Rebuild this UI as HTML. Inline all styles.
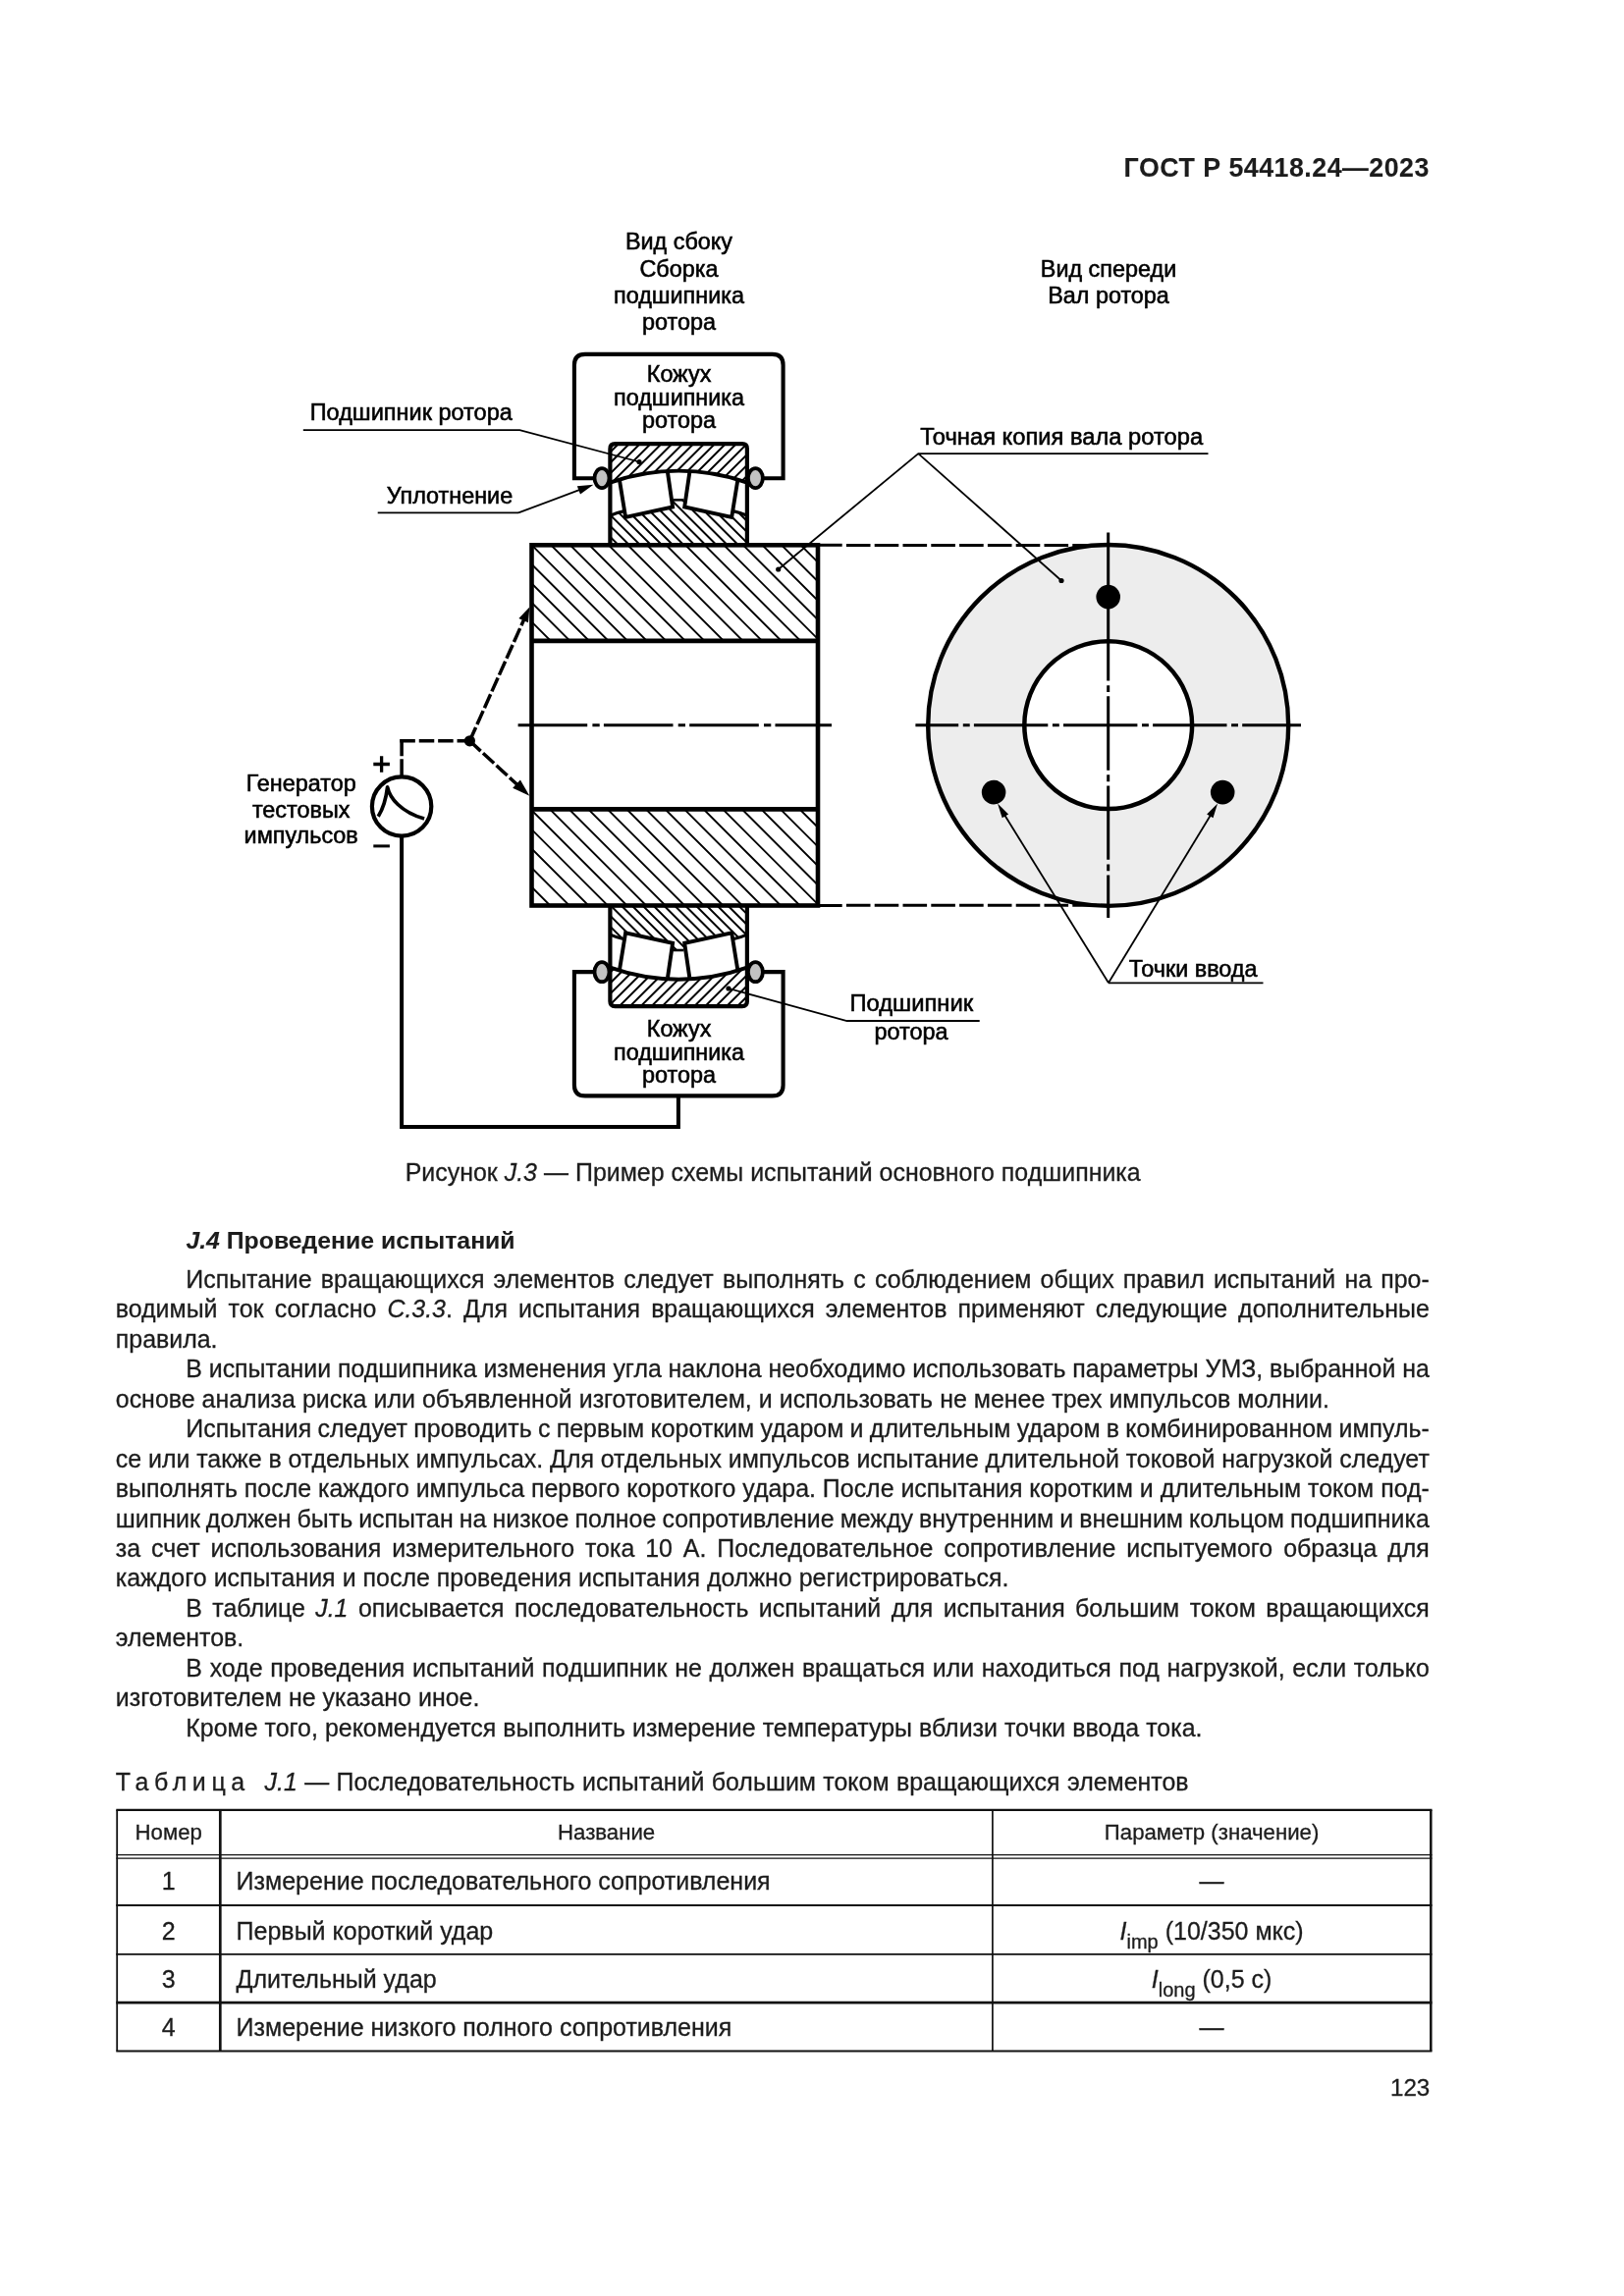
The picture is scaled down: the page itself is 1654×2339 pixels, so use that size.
<!DOCTYPE html>
<html lang="ru"><head><meta charset="utf-8"><title>ГОСТ Р 54418.24—2023</title>
<style>
html,body{margin:0;padding:0;background:#fff}
body{width:1654px;height:2339px;position:relative;overflow:hidden;font-family:"Liberation Sans",Arial,sans-serif;color:#1c1c1c}
.l{position:absolute;white-space:nowrap;margin:0;-webkit-text-stroke:0.3px #1c1c1c}
.l i{font-style:italic}
.r{position:absolute;background:#161616}
sub{font-size:20px;vertical-align:baseline;position:relative;top:9px;line-height:0}
#pg{position:absolute;left:0;top:0;width:1654px;height:2339px;background:#fff;filter:grayscale(1)}
</style></head><body><div id="pg">
<svg width="1654" height="1170" viewBox="0 0 1654 1170" style="position:absolute;left:0;top:0" font-family="'Liberation Sans',Arial,sans-serif" fill="#000"><style>text{stroke:#000;stroke-width:0.55px}</style><defs>
<clipPath id="cTO"><path d="M621.4 452.2 L760.9 452.2 L760.90 491.60 A209.0 209.0 0 0 0 621.40 491.60 Z"/></clipPath>
<clipPath id="cTI"><path d="M621.40 525.20 Q628.60 522.00 635.80 520.60 L637.10 527.00 L685.10 516.50 L685.90 509.30 L696.40 509.30 L697.20 516.50 L745.20 527.00 L746.50 520.60 Q753.70 522.00 760.90 525.20 L760.9 555.3 L621.4 555.3 Z"/></clipPath>
<clipPath id="cBO"><path d="M 621.4 1025.10 L 760.9 1025.10 L 760.90 985.70 A 209.0 209.0 0 0 1 621.40 985.70 Z"/></clipPath>
<clipPath id="cBI"><path d="M 621.40 952.10 Q 628.60 955.30 635.80 956.70 L 637.10 950.30 L 685.10 960.80 L 685.90 968.00 L 696.40 968.00 L 697.20 960.80 L 745.20 950.30 L 746.50 956.70 Q 753.70 955.30 760.90 952.10 L 760.9 922.00 L 621.4 922.00 Z"/></clipPath>
<clipPath id="cST"><rect x="541.5" y="555.3" width="291.5" height="97.60000000000002"/></clipPath>
<clipPath id="cSB"><rect x="541.5" y="824.4" width="291.5" height="98.10000000000002"/></clipPath>
</defs>
<ellipse cx="1128.7" cy="738.9499999999999" rx="183.5" ry="183.9" fill="#ededed" stroke="#000" stroke-width="4.4"/>
<circle cx="1128.7" cy="738.65" r="85.4" fill="#fff" stroke="#000" stroke-width="4.5"/>
<path d="M932.4 738.65H1325" stroke="#000" stroke-width="3" stroke-dasharray="75.4 4.6 6.9 4.2" stroke-dashoffset="31.6" fill="none"/>
<path d="M1128.7 542.4V935" stroke="#000" stroke-width="3" stroke-dasharray="75.4 4.6 6.9 4.2" stroke-dashoffset="15.3" fill="none"/>
<circle cx="1128.7" cy="608.1" r="12.3" fill="#000"/>
<circle cx="1012.1" cy="807.1" r="12.3" fill="#000"/>
<circle cx="1245.2" cy="807.1" r="12.3" fill="#000"/>
<path d="M833.0 555.3H857.7" stroke="#000" stroke-width="3" fill="none"/>
<path d="M861.9 555.5H1128" stroke="#000" stroke-width="3" stroke-dasharray="24.6 4.2" fill="none"/>
<path d="M833.0 922.5H857.7" stroke="#000" stroke-width="3" fill="none"/>
<path d="M861.9 922.3H1128" stroke="#000" stroke-width="3" stroke-dasharray="24.6 4.2" fill="none"/>
<path clip-path="url(#cST)" d="M421.16 552.30L524.76 655.90M440.73 552.30L544.33 655.90M460.30 552.30L563.90 655.90M479.87 552.30L583.47 655.90M499.44 552.30L603.04 655.90M519.01 552.30L622.61 655.90M538.58 552.30L642.18 655.90M558.15 552.30L661.75 655.90M577.72 552.30L681.32 655.90M597.29 552.30L700.89 655.90M616.86 552.30L720.46 655.90M636.43 552.30L740.03 655.90M656.00 552.30L759.60 655.90M675.57 552.30L779.17 655.90M695.14 552.30L798.74 655.90M714.71 552.30L818.31 655.90M734.28 552.30L837.88 655.90M753.85 552.30L857.45 655.90M773.42 552.30L877.02 655.90M792.99 552.30L896.59 655.90M812.56 552.30L916.16 655.90M832.13 552.30L935.73 655.90M851.70 552.30L955.30 655.90" stroke="#000" stroke-width="1.9" fill="none"/>
<path clip-path="url(#cSB)" d="M420.06 821.40L524.16 925.50M439.63 821.40L543.73 925.50M459.20 821.40L563.30 925.50M478.77 821.40L582.87 925.50M498.34 821.40L602.44 925.50M517.91 821.40L622.01 925.50M537.48 821.40L641.58 925.50M557.05 821.40L661.15 925.50M576.62 821.40L680.72 925.50M596.19 821.40L700.29 925.50M615.76 821.40L719.86 925.50M635.33 821.40L739.43 925.50M654.90 821.40L759.00 925.50M674.47 821.40L778.57 925.50M694.04 821.40L798.14 925.50M713.61 821.40L817.71 925.50M733.18 821.40L837.28 925.50M752.75 821.40L856.85 925.50M772.32 821.40L876.42 925.50M791.89 821.40L895.99 925.50M811.46 821.40L915.56 925.50M831.03 821.40L935.13 925.50M850.60 821.40L954.70 925.50" stroke="#000" stroke-width="1.9" fill="none"/>
<rect x="541.5" y="555.3" width="291.5" height="367.20000000000005" fill="none" stroke="#000" stroke-width="4.6"/>
<path d="M541.5 652.9H833.0M541.5 824.4H833.0" stroke="#000" stroke-width="4.6" fill="none"/>
<path d="M527.6 738.65H847" stroke="#000" stroke-width="3" stroke-dasharray="70.6 5.2 7.3 4.2" fill="none"/>
<path d="M606 487.2H584.9V371.9Q584.9 360.9 595.9 360.9H786.6Q797.6 360.9 797.6 371.9V487.2H777" fill="none" stroke="#000" stroke-width="4.1"/>
<path d="M606 990.10H584.9V1105.40Q584.9 1116.40 595.9 1116.40H786.6Q797.6 1116.40 797.6 1105.40V990.10H777" fill="none" stroke="#000" stroke-width="4.1"/>
<path clip-path="url(#cTO)" d="M611.10 449.20L562.30 498.00M622.00 449.20L573.20 498.00M632.90 449.20L584.10 498.00M643.80 449.20L595.00 498.00M654.70 449.20L605.90 498.00M665.60 449.20L616.80 498.00M676.50 449.20L627.70 498.00M687.40 449.20L638.60 498.00M698.30 449.20L649.50 498.00M709.20 449.20L660.40 498.00M720.10 449.20L671.30 498.00M731.00 449.20L682.20 498.00M741.90 449.20L693.10 498.00M752.80 449.20L704.00 498.00M763.70 449.20L714.90 498.00M774.60 449.20L725.80 498.00M785.50 449.20L736.70 498.00M796.40 449.20L747.60 498.00M807.30 449.20L758.50 498.00M818.20 449.20L769.40 498.00" stroke="#000" stroke-width="2.0" fill="none"/>
<path clip-path="url(#cTI)" d="M554.40 502.00L610.70 558.30M565.50 502.00L621.80 558.30M576.60 502.00L632.90 558.30M587.70 502.00L644.00 558.30M598.80 502.00L655.10 558.30M609.90 502.00L666.20 558.30M621.00 502.00L677.30 558.30M632.10 502.00L688.40 558.30M643.20 502.00L699.50 558.30M654.30 502.00L710.60 558.30M665.40 502.00L721.70 558.30M676.50 502.00L732.80 558.30M687.60 502.00L743.90 558.30M698.70 502.00L755.00 558.30M709.80 502.00L766.10 558.30M720.90 502.00L777.20 558.30M732.00 502.00L788.30 558.30M743.10 502.00L799.40 558.30M754.20 502.00L810.50 558.30M765.30 502.00L821.60 558.30M776.40 502.00L832.70 558.30" stroke="#000" stroke-width="2.0" fill="none"/>
<path clip-path="url(#cBO)" d="M610.92 979.30L562.12 1028.10M621.85 979.30L573.05 1028.10M632.78 979.30L583.98 1028.10M643.71 979.30L594.91 1028.10M654.64 979.30L605.84 1028.10M665.57 979.30L616.77 1028.10M676.50 979.30L627.70 1028.10M687.43 979.30L638.63 1028.10M698.36 979.30L649.56 1028.10M709.29 979.30L660.49 1028.10M720.22 979.30L671.42 1028.10M731.15 979.30L682.35 1028.10M742.08 979.30L693.28 1028.10M753.01 979.30L704.21 1028.10M763.94 979.30L715.14 1028.10M774.87 979.30L726.07 1028.10M785.80 979.30L737.00 1028.10M796.73 979.30L747.93 1028.10M807.66 979.30L758.86 1028.10M818.59 979.30L769.79 1028.10" stroke="#000" stroke-width="2.0" fill="none"/>
<path clip-path="url(#cBI)" d="M553.80 919.50L609.60 975.30M564.65 919.50L620.45 975.30M575.50 919.50L631.30 975.30M586.35 919.50L642.15 975.30M597.20 919.50L653.00 975.30M608.05 919.50L663.85 975.30M618.90 919.50L674.70 975.30M629.75 919.50L685.55 975.30M640.60 919.50L696.40 975.30M651.45 919.50L707.25 975.30M662.30 919.50L718.10 975.30M673.15 919.50L728.95 975.30M684.00 919.50L739.80 975.30M694.85 919.50L750.65 975.30M705.70 919.50L761.50 975.30M716.55 919.50L772.35 975.30M727.40 919.50L783.20 975.30M738.25 919.50L794.05 975.30M749.10 919.50L804.90 975.30M759.95 919.50L815.75 975.30M770.80 919.50L826.60 975.30" stroke="#000" stroke-width="2.0" fill="none"/>
<g fill="none" stroke="#000" stroke-linejoin="round"><path d="M621.4 555.3V457.2Q621.4 452.2 626.4 452.2H755.9Q760.9 452.2 760.9 457.2V555.3" stroke-width="4.2"/><path d="M621.40 491.60 A209.0 209.0 0 0 1 760.90 491.60" stroke-width="3.9"/><path d="M630.80 488.00L637.10 527.00L685.10 516.50L680.00 481.40" stroke-width="3.9" stroke-linejoin="miter"/><path d="M702.30 481.40L697.20 516.50L745.20 527.00L751.50 488.00" stroke-width="3.9" stroke-linejoin="miter"/><path d="M685.90 509.30L696.40 509.30" stroke-width="2.6"/><path d="M621.40 525.20 Q628.60 522.00 635.80 520.60" stroke-width="3.2"/><path d="M746.50 520.60 Q753.70 522.00 760.90 525.20" stroke-width="3.2"/><ellipse cx="613.0" cy="487.1" rx="7.5" ry="10.0" fill="#c2c2c2" stroke-width="3.8"/><ellipse cx="769.4" cy="487.1" rx="7.5" ry="10.0" fill="#c2c2c2" stroke-width="3.8"/></g>
<g transform="translate(0 1477.30) scale(1 -1)" fill="none" stroke="#000" stroke-linejoin="round"><path d="M621.4 555.3V457.2Q621.4 452.2 626.4 452.2H755.9Q760.9 452.2 760.9 457.2V555.3" stroke-width="4.2"/><path d="M621.40 491.60 A209.0 209.0 0 0 1 760.90 491.60" stroke-width="3.9"/><path d="M630.80 488.00L637.10 527.00L685.10 516.50L680.00 481.40" stroke-width="3.9" stroke-linejoin="miter"/><path d="M702.30 481.40L697.20 516.50L745.20 527.00L751.50 488.00" stroke-width="3.9" stroke-linejoin="miter"/><path d="M685.90 509.30L696.40 509.30" stroke-width="2.6"/><path d="M621.40 525.20 Q628.60 522.00 635.80 520.60" stroke-width="3.2"/><path d="M746.50 520.60 Q753.70 522.00 760.90 525.20" stroke-width="3.2"/><ellipse cx="613.0" cy="487.1" rx="7.5" ry="10.0" fill="#c2c2c2" stroke-width="3.8"/><ellipse cx="769.4" cy="487.1" rx="7.5" ry="10.0" fill="#c2c2c2" stroke-width="3.8"/></g>
<circle cx="409.1" cy="821.5" r="30.2" fill="#fff" stroke="#000" stroke-width="4.2"/>
<path d="M385.2 831.7 Q392.4 820.5 394.6 801.8 C397 813 408 827 432.1 834.1" fill="none" stroke="#000" stroke-width="3.7" stroke-linejoin="round" stroke-linecap="butt"/>
<path d="M409.1 851.8V1148.0H690.9V1116.40" fill="none" stroke="#000" stroke-width="4.0" stroke-linejoin="miter"/>
<path d="M409.1 791.2V753" fill="none" stroke="#000" stroke-width="3.5" stroke-dasharray="17.9 3.1 30"/>
<path d="M407.35 754.8H478.3" fill="none" stroke="#000" stroke-width="3.5" stroke-dasharray="15.5 3.9"/>
<circle cx="478.4" cy="754.8" r="5.6" fill="#000"/>
<path d="M478.40 754.80L534.00 630.37" stroke="#000" stroke-width="3.5" fill="none" stroke-dasharray="15.2 3.2"/><path d="M539.30 618.50L537.97 634.34L528.39 630.05Z" fill="#000"/>
<path d="M478.40 754.80L527.52 799.97" stroke="#000" stroke-width="3.5" fill="none" stroke-dasharray="15.2 3.2"/><path d="M539.30 810.80L522.16 802.85L529.94 794.38Z" fill="#000"/>
<path d="M380.3 778.5H396.9M388.6 770.2V786.8" stroke="#000" stroke-width="3.3" fill="none"/>
<path d="M380.3 861.9H396.9" stroke="#000" stroke-width="3" fill="none"/>
<path d="M308.8 438.1H529.3L651 470.5" stroke="#000" stroke-width="1.8" fill="none"/><circle cx="651" cy="470.5" r="2.6" fill="#000"/>
<path d="M384.7 522.4H528" stroke="#000" stroke-width="1.8" fill="none"/>
<path d="M528.00 522.40L591.29 498.71" stroke="#000" stroke-width="1.8" fill="none"/><path d="M604.40 493.80L590.99 503.62L587.84 495.19Z" fill="#000"/>
<path d="M1230.5 462.1H935.3L792.7 580M935.3 462.1L1081 591.5" stroke="#000" stroke-width="1.8" fill="none"/><circle cx="792.7" cy="580" r="2.6" fill="#000"/><circle cx="1081" cy="591.5" r="2.6" fill="#000"/>
<path d="M1286.5 1001.3H1129" stroke="#000" stroke-width="1.8" fill="none"/>
<path d="M1129.00 1001.30L1022.84 829.66" stroke="#000" stroke-width="1.8" fill="none"/><path d="M1016.00 818.60L1027.08 829.38L1020.70 833.33Z" fill="#000"/>
<path d="M1129.00 1001.30L1233.35 829.71" stroke="#000" stroke-width="1.8" fill="none"/><path d="M1240.10 818.60L1235.51 833.36L1229.10 829.47Z" fill="#000"/>
<path d="M997.7 1040.0H862.6L742 1007" stroke="#000" stroke-width="1.8" fill="none"/><circle cx="742" cy="1007" r="2.6" fill="#000"/>
<text x="691.5" y="254.2" text-anchor="middle" font-size="23.4">Вид сбоку</text>
<text x="691.5" y="282.2" text-anchor="middle" font-size="23.4">Сборка</text>
<text x="691.5" y="309.0" text-anchor="middle" font-size="23.4">подшипника</text>
<text x="691.5" y="335.7" text-anchor="middle" font-size="23.4">ротора</text>
<text x="1129" y="282.2" text-anchor="middle" font-size="23.4">Вид спереди</text>
<text x="1129" y="309.0" text-anchor="middle" font-size="23.4">Вал ротора</text>
<text x="691.6" y="389.0" text-anchor="middle" font-size="23.4">Кожух</text>
<text x="691.6" y="412.6" text-anchor="middle" font-size="23.4">подшипника</text>
<text x="691.6" y="435.7" text-anchor="middle" font-size="23.4">ротора</text>
<text x="691.6" y="1055.8" text-anchor="middle" font-size="23.4">Кожух</text>
<text x="691.6" y="1079.8" text-anchor="middle" font-size="23.4">подшипника</text>
<text x="691.6" y="1102.9" text-anchor="middle" font-size="23.4">ротора</text>
<text x="315.7" y="428.3" text-anchor="start" font-size="23.5">Подшипник ротора</text>
<text x="522.2" y="513.1" text-anchor="end" font-size="23.4">Уплотнение</text>
<text x="306.7" y="806.3" text-anchor="middle" font-size="23.4">Генератор</text>
<text x="306.7" y="832.6" text-anchor="middle" font-size="23.4">тестовых</text>
<text x="306.7" y="859.2" text-anchor="middle" font-size="23.4">импульсов</text>
<text x="937.2" y="452.5" text-anchor="start" font-size="23.73">Точная копия вала ротора</text>
<text x="1149.8" y="994.7" text-anchor="start" font-size="23.4">Точки ввода</text>
<text x="865.4" y="1030.4" text-anchor="start" font-size="23.8">Подшипник</text>
<text x="928" y="1059.4" text-anchor="middle" font-size="23.4">ротора</text></svg>
<div class="l" style="top:155.71px;left:1144.6px;font-size:26.8px;line-height:30px;font-weight:bold;letter-spacing:0.48px;-webkit-text-stroke:0.1px #1c1c1c;">ГОСТ Р 54418.24—2023</div><div class="l" style="top:1179.36px;left:412.7px;font-size:24.93px;line-height:30px;word-spacing:0.12px;">Рисунок <i>J.3</i> — Пример схемы испытаний основного подшипника</div><div class="l" style="top:1249.41px;left:189.4px;font-size:24.8px;line-height:30px;-webkit-text-stroke:0.1px #1c1c1c;"><b><i>J.4</i> Проведение испытаний</b></div><div class="l" style="top:1287.76px;left:189.3px;font-size:24.93px;line-height:30px;word-spacing:2.251px;">Испытание вращающихся элементов следует выполнять с соблюдением общих правил испытаний на про-</div><div class="l" style="top:1318.23px;left:117.8px;font-size:24.93px;line-height:30px;word-spacing:4.194px;">водимый ток согласно <i>С.3.3</i>. Для испытания вращающихся элементов применяют следующие дополнительные</div><div class="l" style="top:1348.70px;left:117.8px;font-size:24.93px;line-height:30px;word-spacing:0.12px;">правила.</div><div class="l" style="top:1379.17px;left:189.3px;font-size:24.93px;line-height:30px;word-spacing:-0.132px;">В испытании подшипника изменения угла наклона необходимо использовать параметры УМЗ, выбранной на</div><div class="l" style="top:1409.64px;left:117.8px;font-size:24.93px;line-height:30px;word-spacing:0.12px;">основе анализа риска или объявленной изготовителем, и использовать не менее трех импульсов молнии.</div><div class="l" style="top:1440.11px;left:189.3px;font-size:24.93px;line-height:30px;word-spacing:-0.626px;">Испытания следует проводить с первым коротким ударом и длительным ударом в комбинированном импуль-</div><div class="l" style="top:1470.58px;left:117.8px;font-size:24.93px;line-height:30px;word-spacing:-0.084px;">се или также в отдельных импульсах. Для отдельных импульсов испытание длительной токовой нагрузкой следует</div><div class="l" style="top:1501.05px;left:117.8px;font-size:24.93px;line-height:30px;word-spacing:-0.011px;">выполнять после каждого импульса первого короткого удара. После испытания коротким и длительным током под-</div><div class="l" style="top:1531.52px;left:117.8px;font-size:24.93px;line-height:30px;word-spacing:-0.882px;">шипник должен быть испытан на низкое полное сопротивление между внутренним и внешним кольцом подшипника</div><div class="l" style="top:1561.99px;left:117.8px;font-size:24.93px;line-height:30px;word-spacing:3.999px;">за счет использования измерительного тока 10 А. Последовательное сопротивление испытуемого образца для</div><div class="l" style="top:1592.46px;left:117.8px;font-size:24.93px;line-height:30px;word-spacing:0.12px;">каждого испытания и после проведения испытания должно регистрироваться.</div><div class="l" style="top:1622.93px;left:189.3px;font-size:24.93px;line-height:30px;word-spacing:3.495px;">В таблице <i>J.1</i> описывается последовательность испытаний для испытания большим током вращающихся</div><div class="l" style="top:1653.40px;left:117.8px;font-size:24.93px;line-height:30px;word-spacing:0.12px;">элементов.</div><div class="l" style="top:1683.87px;left:189.3px;font-size:24.93px;line-height:30px;word-spacing:0.782px;">В ходе проведения испытаний подшипник не должен вращаться или находиться под нагрузкой, если только</div><div class="l" style="top:1714.34px;left:117.8px;font-size:24.93px;line-height:30px;word-spacing:0.12px;">изготовителем не указано иное.</div><div class="l" style="top:1744.81px;left:189.3px;font-size:24.93px;line-height:30px;word-spacing:0.12px;">Кроме того, рекомендуется выполнить измерение температуры вблизи точки ввода тока.</div><div class="l" style="top:1800.36px;left:117.8px;font-size:24.93px;line-height:30px;word-spacing:0.5px;"><span style="letter-spacing:5.6px">Таблица</span>&nbsp; <i>J.1</i> — Последовательность испытаний большим током вращающихся элементов</div><div class="l" style="top:2112.41px;left:1414.3px;font-size:24.2px;line-height:30px;width:42px;text-align:right;">123</div>
<svg width="1654" height="270" viewBox="0 1830 1654 270" style="position:absolute;left:0;top:1830px" fill="none" stroke="#111"><path d="M118.3 1843.9H1458.5" stroke-width="2.2"/><path d="M118.3 1889.6H1458.5" stroke-width="1.2"/><path d="M118.3 1893.1H1458.5" stroke-width="1.2"/><path d="M118.3 1941.1H1458.5" stroke-width="2.0"/><path d="M118.3 1990.8H1458.5" stroke-width="1.7"/><path d="M118.3 2040.1H1458.5" stroke-width="2.6"/><path d="M118.3 2089.4H1458.5" stroke-width="2.0"/><path d="M119.2 1843.9V2089.4" stroke-width="1.8"/><path d="M224.3 1843.9V2089.4" stroke-width="2.7"/><path d="M1010.9 1843.9V2089.4" stroke-width="1.7"/><path d="M1457.3 1843.9V2089.4" stroke-width="2.5"/></svg><div class="l" style="top:1852.41px;left:119.2px;width:105.1px;text-align:center;font-size:22.2px;line-height:30px">Номер</div><div class="l" style="top:1852.41px;left:224.3px;width:786.6px;text-align:center;font-size:22.2px;line-height:30px">Название</div><div class="l" style="top:1852.41px;left:1010.9px;width:446.4px;text-align:center;font-size:22.2px;line-height:30px">Параметр (значение)</div><div class="l" style="top:1901.44px;left:119.2px;width:105.1px;text-align:center;font-size:25px;line-height:30px">1</div><div class="l" style="top:1901.44px;left:240.6px;width:770.3px;text-align:left;font-size:25px;line-height:30px">Измерение последовательного сопротивления</div><div class="l" style="top:1901.44px;left:1010.9px;width:446.4px;text-align:center;font-size:25px;line-height:30px">—</div><div class="l" style="top:1951.54px;left:119.2px;width:105.1px;text-align:center;font-size:25px;line-height:30px">2</div><div class="l" style="top:1951.54px;left:240.6px;width:770.3px;text-align:left;font-size:25px;line-height:30px">Первый короткий удар</div><div class="l" style="top:1951.54px;left:1010.9px;width:446.4px;text-align:center;font-size:25px;line-height:30px"><i>I</i><sub>imp</sub> (10/350 мкс)</div><div class="l" style="top:2000.74px;left:119.2px;width:105.1px;text-align:center;font-size:25px;line-height:30px">3</div><div class="l" style="top:2000.74px;left:240.6px;width:770.3px;text-align:left;font-size:25px;line-height:30px">Длительный удар</div><div class="l" style="top:2000.74px;left:1010.9px;width:446.4px;text-align:center;font-size:25px;line-height:30px"><i>I</i><sub>long</sub> (0,5 с)</div><div class="l" style="top:2050.14px;left:119.2px;width:105.1px;text-align:center;font-size:25px;line-height:30px">4</div><div class="l" style="top:2050.14px;left:240.6px;width:770.3px;text-align:left;font-size:25px;line-height:30px">Измерение низкого полного сопротивления</div><div class="l" style="top:2050.14px;left:1010.9px;width:446.4px;text-align:center;font-size:25px;line-height:30px">—</div>
</div></body></html>
